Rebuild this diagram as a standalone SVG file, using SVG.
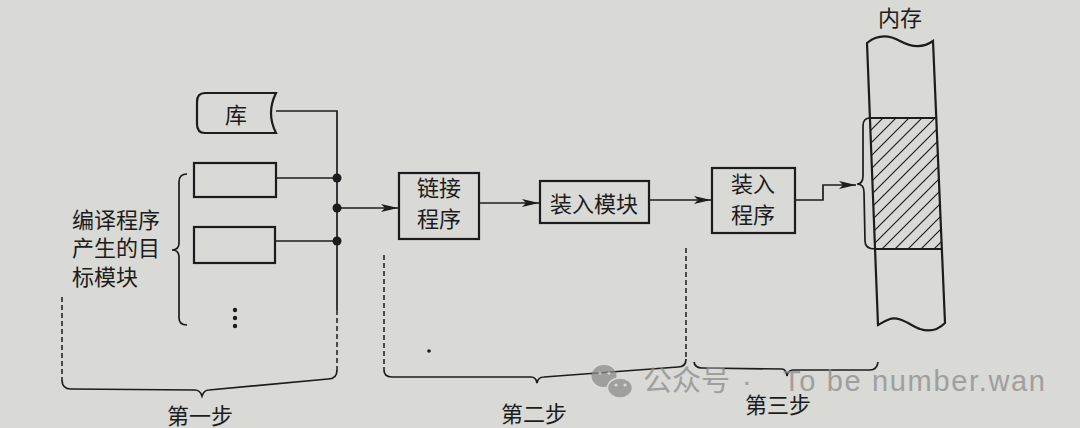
<svg xmlns="http://www.w3.org/2000/svg" width="1080" height="428" viewBox="0 0 1080 428">
<style>
.box{fill:none;stroke:#1c1c1c;stroke-width:2.2}
.ln{fill:none;stroke:#1c1c1c;stroke-width:1.7}
.dash{fill:none;stroke:#1c1c1c;stroke-width:1.5;stroke-dasharray:5 3}
.t{font-family:"Noto Sans CJK SC","Noto Sans",sans-serif;font-size:22px;fill:#1c1c1c;text-anchor:middle;dominant-baseline:central}
.t2{font-family:"Liberation Sans","Noto Sans CJK SC",sans-serif;font-size:22px;fill:#1c1c1c;dominant-baseline:central}
.wm{font-family:"Liberation Sans","Noto Sans CJK SC",sans-serif;font-size:29px;fill:#8c8c8c}
</style>
<defs>
<marker id="ah" markerUnits="userSpaceOnUse" markerWidth="18" markerHeight="10" refX="17" refY="5" orient="auto">
<path d="M0,1 L17,5 L0,9 L4,5 Z" fill="#1c1c1c"/>
</marker>
<pattern id="hatch" patternUnits="userSpaceOnUse" width="13" height="13">
<path d="M0,13 L13,0 M-3,3 L3,-3 M10,16 L16,10" stroke="#1c1c1c" stroke-width="1.2"/>
</pattern>
</defs>
<rect width="1080" height="428" fill="#d9d9d6"/>

<g id="library">
<path class="box" d="M205,93 H276 Q266,113 276,133 H205 Q197,133 197,124 V102 Q197,93 205,93 Z"/>
<text class="t" x="236" y="113">库</text>
</g>
<g id="module1"><rect class="box" x="194" y="163" width="82" height="34"/></g>
<g id="module2"><rect class="box" x="194" y="227" width="81" height="36"/></g>
<g id="more-modules">
<circle cx="235" cy="310" r="2.2" fill="#1c1c1c"/>
<circle cx="235" cy="318" r="2.2" fill="#1c1c1c"/>
<circle cx="235" cy="326" r="2.2" fill="#1c1c1c"/>
</g>
<g id="modules-label">
<path class="ln" d="M187,174 Q179,174 179,182 L179,243 Q179,250 172,250 Q179,250 179,257 L179,318 Q179,325 187,325"/>
<text class="t2"><tspan x="72" y="220">编译程序</tspan><tspan x="72" y="248">产生的目</tspan><tspan x="72" y="277">标模块</tspan></text>
</g>
<g id="linker">
<rect class="box" x="399" y="173" width="80" height="66"/>
<text class="t2" style="text-anchor:middle"><tspan x="439" y="188">链接</tspan><tspan x="439" y="219">程序</tspan></text>
</g>
<g id="load-module">
<rect class="box" x="540" y="181" width="109" height="42"/>
<text class="t" x="594" y="202">装入模块</text>
</g>
<g id="loader">
<rect class="box" x="712" y="168" width="83" height="65"/>
<text class="t2" style="text-anchor:middle"><tspan x="753" y="184">装入</tspan><tspan x="753" y="215">程序</tspan></text>
</g>
<g id="memory">
<text class="t" x="900" y="16">内存</text>
<path fill="url(#hatch)" d="M870,118 L936,118 L942,249 L875,249 Z"/>
<path class="box" d="M867,43 C878,34 889,35 900,41 C911,47 922,49 933,41 L945,323 C937,331 929,332 920,329 C910,325 899,316 890,319 C884,321 880,324 878,325 Z"/>
<path class="box" d="M870,118 L936,118 M875,249 L942,249"/>
<path class="ln" d="M870,118 Q863,118 863,126 L863,176 Q863,184 857,184 Q864,184 864,192 L865,241 Q865,249 875,249"/>
</g>

<g id="connectors">
<path class="ln" d="M276,111 H337 V310"/>
<path class="ln" d="M276,178 H337 M275,241 H337"/>
<circle cx="337" cy="178" r="4.5" fill="#1c1c1c"/>
<circle cx="337" cy="208" r="4.5" fill="#1c1c1c"/>
<circle cx="337" cy="241" r="4.5" fill="#1c1c1c"/>
<path class="ln" d="M337,208 H398" marker-end="url(#ah)"/>
<path class="ln" d="M479,203 H539" marker-end="url(#ah)"/>
<path class="ln" d="M649,200 H711" marker-end="url(#ah)"/>
<path class="ln" d="M795,200 H823 V185 H856" marker-end="url(#ah)"/>
</g>

<g id="step1">
<path class="dash" d="M337,310 V370 M62,297 V380"/>
<path class="ln" d="M62,380 Q62,389 71,389 L195,390 Q200,390 202,396 Q204,390 209,390 L328,379 Q337,379 337,370"/>
<text class="t" x="200" y="414">第一步</text>
</g>
<g id="step2">
<path class="dash" d="M384,255 V370 M686,248 V359"/>
<path class="ln" d="M384,370 Q384,377 392,377 L531,377 Q536,377 537,383 Q538,377 544,377 L678,367 Q686,367 686,359"/>
<text class="t" x="534" y="412">第二步</text>
</g>
<g id="step3">
<path class="ln" d="M694,362 Q695,368 702,368 L782,369 Q786,369 787,376 Q788,370 793,370 L870,370 Q877,370 878,362"/>
<text class="t2" style="text-anchor:middle" x="778" y="405">第三步</text>
</g>
<circle cx="429" cy="351" r="1.8" fill="#1c1c1c"/>

<g id="watermark" opacity="0.75">
<ellipse cx="604" cy="376" rx="12.5" ry="11" fill="#8c8c8c"/>
<circle cx="600" cy="373" r="1.6" fill="#d9d9d6"/>
<circle cx="609" cy="373" r="1.6" fill="#d9d9d6"/>
<ellipse cx="620" cy="388" rx="12.5" ry="10" fill="#8c8c8c" stroke="#d9d9d6" stroke-width="1.5"/>
<circle cx="616" cy="385" r="1.6" fill="#d9d9d6"/>
<circle cx="625" cy="385" r="1.6" fill="#d9d9d6"/>
<text class="wm" y="391"><tspan x="643">公众号</tspan><tspan x="742">·</tspan><tspan x="783" textLength="262" lengthAdjust="spacing">To be number.wan</tspan></text>
</g>
</svg>
